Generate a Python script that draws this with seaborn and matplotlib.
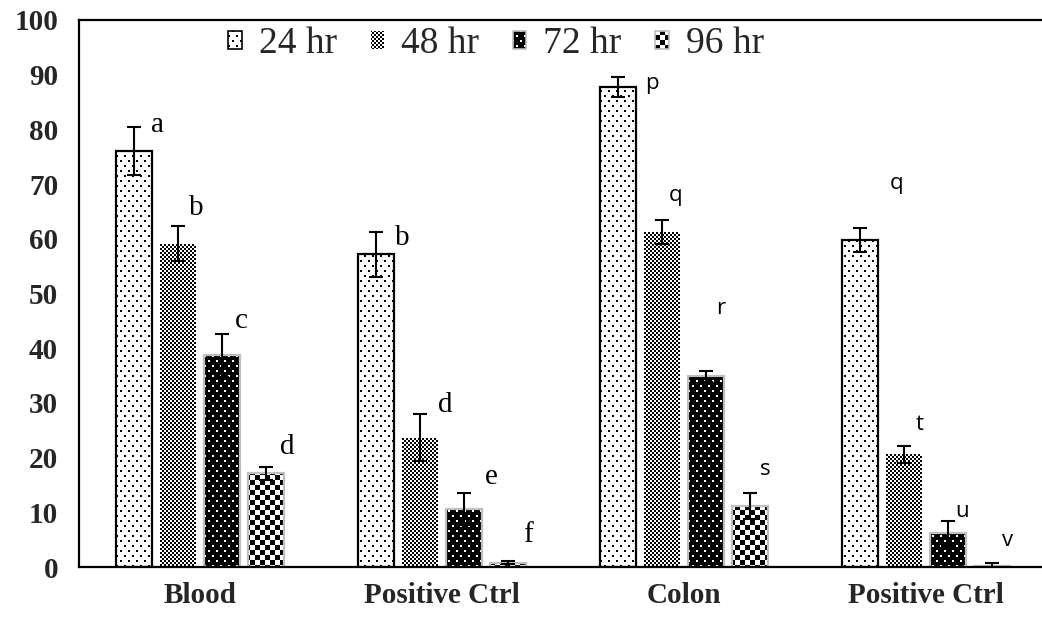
import numpy as np
import pandas as pd
import matplotlib
matplotlib.use("Agg")
import matplotlib.pyplot as plt
from matplotlib.patches import Patch
import seaborn as sns

# ---- data -------------------------------------------------------------
groups = ["Blood", "Positive Ctrl A", "Colon", "Positive Ctrl B"]
group_labels = ["Blood", "Positive Ctrl", "Colon", "Positive Ctrl"]
times = ["24 hr", "48 hr", "72 hr", "96 hr"]

values_24 = [76.0, 57.2, 87.7, 59.8]
values_48 = [59.1, 23.6, 61.3, 20.6]
values_72 = [38.7, 10.6, 34.9, 6.2]
values_96 = [17.1, 0.8, 11.2, 0.25]

err_24 = [4.4, 4.1, 1.8, 2.2]
err_48 = [3.2, 4.3, 2.2, 1.6]
err_72 = [3.9, 3.0, 1.0, 2.3]
err_96 = [1.2, 0.3, 2.4, 0.5]

letters_24 = ["a", "b", "p", "q"]
letters_48 = ["b", "d", "q", "t"]
letters_72 = ["c", "e", "r", "u"]
letters_96 = ["d", "f", "s", "v"]

yticks = [0, 10, 20, 30, 40, 50, 60, 70, 80, 90, 100]

# ---- layout of the significance letters: (x offset in px, y in data) ---
place_24 = [(23, 80.8), (26, 60.1), (34, 88.3), (37, 70.2)]
place_48 = [(18, 65.6), (25, 29.6), (14, 68.0), (16, 26.0)]
place_72 = [(19, 45.0), (27, 16.5), (15, 47.3), (14, 10.2)]
place_96 = [(21, 21.9), (20, 5.9), (15, 17.9), (16, 4.9)]

values = [values_24, values_48, values_72, values_96]
errors = [err_24, err_48, err_72, err_96]
letters = [letters_24, letters_48, letters_72, letters_96]
places = [place_24, place_48, place_72, place_96]

df = pd.DataFrame({
    "group": [g for _ in times for g in groups],
    "time": [t for t in times for _ in groups],
    "value": [v for vs in values for v in vs],
})

# ---- styling ----------------------------------------------------------
sns.set_style("white")
plt.rcParams["font.family"] = ["Liberation Serif", "DejaVu Serif"]

FIG_W, FIG_H, DPI = 1042, 617, 100
fig = plt.figure(figsize=(FIG_W / DPI, FIG_H / DPI), dpi=DPI)
fig.patch.set_facecolor("white")
ax_left, ax_right, ax_top, ax_bottom = 79, 1047, 20, 567
ax = fig.add_axes([ax_left / FIG_W, 1 - ax_bottom / FIG_H,
                   (ax_right - ax_left) / FIG_W, (ax_bottom - ax_top) / FIG_H])
ax.patch.set_facecolor("none")

sns.barplot(data=df, x="group", y="value", hue="time", order=groups,
            hue_order=times, palette={t: "white" for t in times},
            width=0.727, gap=0.2, errorbar=None, legend=False, ax=ax)

ax.set_ylim(0, 100)
ax.set_xlim(-0.5, len(groups) - 0.5)

bar_sets = list(ax.containers)
edge_colors = ["black", "none", "#bfbfbf", "#bfbfbf"]
textures = ["dots", "fine_check", "white_dots", "check"]


def texture(kind, x0, y0, w, h):
    """RGB tile pattern for a w x h pixel box whose top-left corner sits
    at pixel (x0, y0) of the figure (rows counted from the top)."""
    yy, xx = np.mgrid[y0:y0 + h, x0:x0 + w]
    dots = (((xx % 8) < 2) & ((yy % 10) < 2)) | \
           ((((xx + 4) % 8) < 2) & (((yy + 5) % 10) < 2))
    if kind == "dots":
        ink = dots
    elif kind == "white_dots":
        ink = ~dots
    elif kind == "fine_check":
        ink = ((xx // 2 + yy // 2) % 2) == 0
    else:
        ink = ((xx // 5 + yy // 5) % 2) == 0
    img = np.where(ink, 0.0, 1.0)
    return np.dstack([img, img, img])


def fill_with_texture(patch, kind):
    """Paint a pixel-exact texture underneath a patch's outline."""
    bb = patch.get_window_extent()
    px0 = int(round(bb.x0))
    px1 = int(round(bb.x1))
    py0 = int(round(bb.y0))
    py1 = int(round(bb.y1))
    w, h = px1 - px0, py1 - py0
    if w < 1 or h < 1:
        return
    tex = texture(kind, px0, FIG_H - py1, w, h)
    fig.figimage(tex, xo=px0, yo=py0, origin="upper", zorder=-1)


for i, container in enumerate(bar_sets):
    for patch in container.patches:
        patch.set_facecolor("none")
        patch.set_edgecolor(edge_colors[i])
        patch.set_linewidth(1.6)
        patch.set_zorder(2)
        fill_with_texture(patch, textures[i])

# error bars and letters, anchored on the bar centres
for i, container in enumerate(bar_sets):
    centers = [p.get_x() + p.get_width() / 2 for p in container.patches]
    ax.errorbar(centers, values[i], yerr=errors[i], fmt="none",
                ecolor="black", elinewidth=1.5, capsize=5, capthick=1.5,
                zorder=3)
    for j, (cx, letter) in enumerate(zip(centers, letters[i])):
        dx, ly = places[i][j]
        if j < 2:
            fkw = dict(family=["Liberation Serif"], fontsize=21)
        else:
            fkw = dict(family=["Open Sans", "DejaVu Sans"], fontsize=16)
        ax.annotate(letter, xy=(cx, ly), xytext=(dx * 72 / DPI, 0),
                    textcoords="offset points", ha="center", va="center",
                    color="black", **fkw)

# axes decoration
ax.set_yticks(yticks)
ax.set_yticklabels([str(t) for t in yticks], fontsize=21, fontweight="bold")
ax.set_xticks(range(len(groups)))
ax.set_xticklabels(group_labels, fontsize=21, fontweight="bold")
ax.tick_params(axis="y", length=0, pad=15)
ax.tick_params(axis="x", length=0, pad=11)
ax.set_xlabel("")
ax.set_ylabel("")
for side in ["left", "bottom", "top"]:
    ax.spines[side].set_visible(True)
    ax.spines[side].set_color("black")
    ax.spines[side].set_linewidth(1.6)
ax.spines["right"].set_visible(False)

# legend with the same textures in its keys
legend_ec = ["black", "none", "#bfbfbf", "#bfbfbf"]
handles = [Patch(facecolor="none", edgecolor=ec, linewidth=1.2, label=t)
           for ec, t in zip(legend_ec, times)]
leg = ax.legend(handles=handles, loc="center left",
                bbox_to_anchor=(0.135, 0.956), ncol=4, frameon=False,
                fontsize=27, handlelength=0.36, handleheight=0.36,
                handletextpad=0.45, columnspacing=0.9, borderpad=0)

fig.canvas.draw()
for kind, handle in zip(textures, leg.legend_handles):
    fill_with_texture(handle, kind)

fig.savefig("out.png", dpi=DPI, facecolor="white")
